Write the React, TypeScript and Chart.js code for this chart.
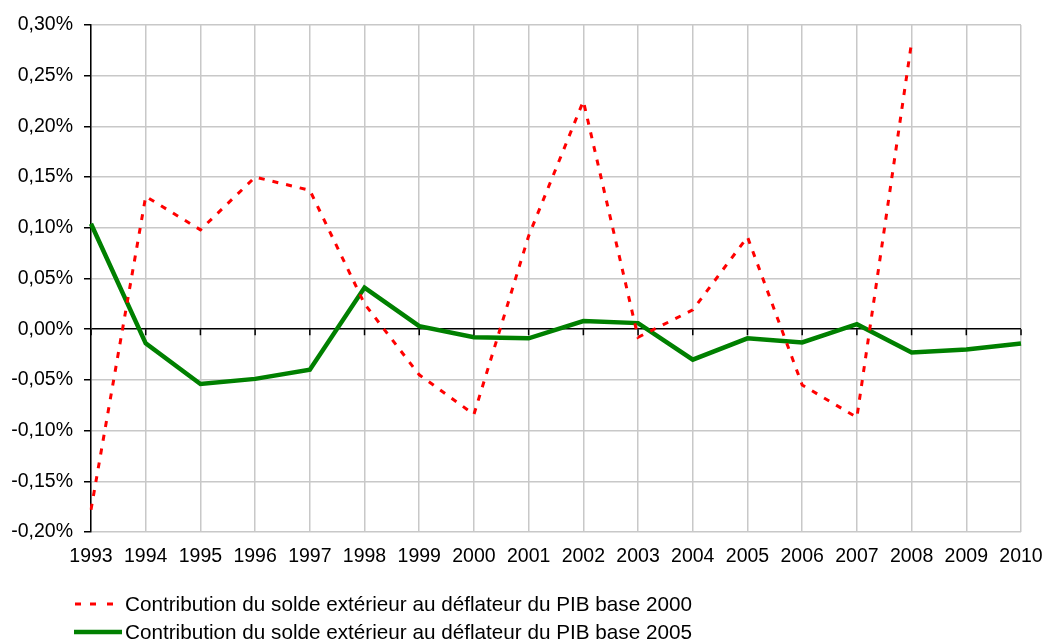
import React, { useEffect, useRef } from "react";
import { Chart, registerables } from "chart.js";

Chart.register(...registerables);

const years = ["1993","1994","1995","1996","1997","1998","1999","2000","2001","2002","2003","2004","2005","2006","2007","2008","2009","2010"];
const base2000 = [-0.178, 0.131, 0.098, 0.150, 0.137, 0.025, -0.045, -0.084, 0.092, 0.225, -0.008, 0.019, 0.091, -0.055, -0.087, 0.283, null, null];
const base2005 = [0.104, -0.014, -0.054, -0.049, -0.040, 0.041, 0.003, -0.008, -0.009, 0.008, 0.006, -0.030, -0.009, -0.013, 0.005, -0.023, -0.020, -0.014];
const label2000 = "Contribution du solde extérieur au déflateur du PIB base 2000";
const label2005 = "Contribution du solde extérieur au déflateur du PIB base 2005";

const FONT = "'Liberation Sans', Arial, sans-serif";
const FS = 19.5;
const LFS = 20.7;

const fmt = (v: number) => v.toFixed(2).replace(".", ",") + "%";

const extras = {
  id: "extras",
  afterDatasetsDraw(chart: any) {
    const ctx = chart.ctx;
    const x = chart.scales.x;
    const y = chart.scales.y;
    const y0 = y.getPixelForValue(0);
    ctx.save();
    ctx.strokeStyle = "#000";
    ctx.lineWidth = 1.5;
    ctx.beginPath();
    for (let i = 0; i < years.length; i++) {
      const px = x.getPixelForValue(i);
      ctx.moveTo(px, y0);
      ctx.lineTo(px, y0 + 6);
    }
    ctx.stroke();
    ctx.restore();
  },
  afterDraw(chart: any) {
    const ctx = chart.ctx;
    ctx.save();
    ctx.font = `${LFS}px ${FONT}`;
    ctx.fillStyle = "#000";
    ctx.textBaseline = "middle";
    ctx.strokeStyle = "#ff0000";
    ctx.lineWidth = 3;
    ctx.beginPath();
    for (const sx of [75, 90, 107]) {
      ctx.moveTo(sx, 604);
      ctx.lineTo(sx + 6, 604);
    }
    ctx.stroke();
    ctx.fillText(label2000, 125, 605);
    ctx.strokeStyle = "#008000";
    ctx.lineWidth = 4.5;
    ctx.beginPath();
    ctx.moveTo(74, 632);
    ctx.lineTo(122, 632);
    ctx.stroke();
    ctx.fillText(label2005, 125, 633);
    ctx.restore();
  },
};

export default function App() {
  const ref = useRef<HTMLCanvasElement | null>(null);
  useEffect(() => {
    if (!ref.current) return;
    const chart = new Chart(ref.current, {
      type: "line",
      data: {
        labels: years,
        datasets: [
          {
            label: label2000,
            data: base2000 as any,
            borderColor: "#ff0000",
            borderWidth: 3,
            borderDash: [6, 8],
            pointRadius: 0,
            tension: 0,
            spanGaps: false,
          },
          {
            label: label2005,
            data: base2005,
            borderColor: "#008000",
            borderWidth: 4.5,
            pointRadius: 0,
            tension: 0,
          },
        ],
      },
      options: {
        animation: false,
        responsive: false,
        layout: { padding: { top: 25, right: 26, bottom: 68, left: 0 } },
        plugins: { legend: { display: false }, tooltip: { enabled: false } },
        scales: {
          x: {
            offset: false,
            grid: { color: "#c8c8c8", lineWidth: 1.5, drawTicks: false },
            border: { display: false },
            ticks: { font: { family: FONT, size: FS }, color: "#000", padding: 13, maxRotation: 0, autoSkip: false },
            afterFit: (s: any) => { s.height = 44; s.paddingLeft = 0; s.paddingRight = 0; },
          },
          y: {
            min: -0.2,
            max: 0.3,
            grid: {
              color: (c: any) => (c.tick && Math.abs(c.tick.value) < 1e-9 ? "#000" : "#c8c8c8"),
              lineWidth: 1.5,
              tickColor: "#000",
              tickLength: 7,
            },
            border: { display: true, color: "#000", width: 1.5 },
            ticks: {
              stepSize: 0.05,
              font: { family: FONT, size: FS },
              color: "#000",
              padding: 11,
              callback: (v: any) => fmt(Number(v)),
            },
            afterFit: (s: any) => { s.width = 91; s.paddingTop = 0; s.paddingBottom = 0; },
          },
        },
      },
      plugins: [extras],
    });
    return () => chart.destroy();
  }, []);
  return (
    <div style={{ position: "fixed", left: 0, top: 0, width: 1047, height: 644, background: "#fff" }}>
      <canvas ref={ref} width={1047} height={644} style={{ display: "block" }} />
    </div>
  );
}
